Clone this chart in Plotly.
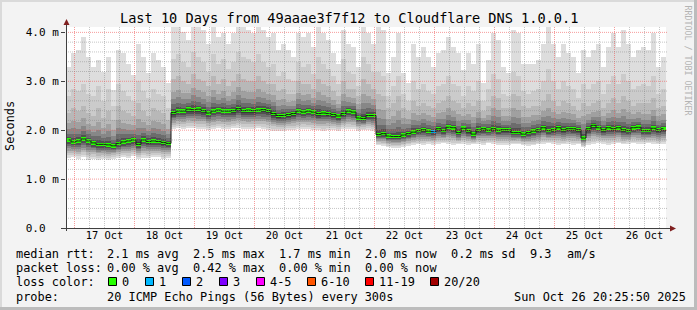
import plotly.graph_objects as go
from datetime import datetime, timedelta

# ---------------- data ----------------
day_labels = ["17 Oct", "18 Oct", "19 Oct", "20 Oct", "21 Oct",
              "22 Oct", "23 Oct", "24 Oct", "25 Oct", "26 Oct"]
y_tick_values = [0, 1, 2, 3, 4]
y_tick_labels = ["0.0\u00a0\u00a0", "1.0 m", "2.0 m", "3.0 m", "4.0 m"]

# 2-hour steps, milliseconds
rtt_median = [
    1.80, 1.76, 1.78, 1.82, 1.78, 1.74, 1.71, 1.71, 1.70, 1.68, 1.73, 1.76, 1.78, 1.80, 1.71, 1.80, 1.77, 1.78, 1.77, 1.75, 1.73,
    2.36, 2.39, 2.39, 2.43, 2.42, 2.43, 2.40, 2.35, 2.39, 2.41, 2.39, 2.39, 2.40, 2.44, 2.40, 2.41, 2.40, 2.41, 2.42, 2.40,
    2.34, 2.30, 2.30, 2.32, 2.34, 2.39, 2.37, 2.39, 2.37, 2.34, 2.35, 2.34, 2.32, 2.29, 2.34, 2.39, 2.37, 2.25, 2.24, 2.30, 2.30,
    1.91, 1.93, 1.88, 1.87, 1.87, 1.90, 1.93, 1.96, 1.99, 2.01, 1.98, 1.97, 2.03, 1.99, 2.06, 2.05, 1.95, 2.04, 1.99, 1.92,
    2.01, 2.03, 2.00, 2.03, 2.00, 2.01, 2.01, 1.95, 1.95, 1.92, 1.95, 1.98, 2.01, 2.05, 1.99, 2.01, 2.05, 2.01, 2.03, 2.03,
    2.01, 1.84, 2.03, 2.10, 2.05, 2.01, 2.05, 2.03, 2.05, 2.01, 1.99, 2.05, 2.06, 1.99, 1.99, 2.04, 2.01, 2.03,
]
rtt_max = [
    3.30, 3.57, 3.64, 3.91, 3.50, 3.30, 3.43, 3.19, 3.50, 2.82, 3.64, 3.57, 3.36, 3.12, 3.77, 3.50, 3.16, 3.57, 3.43, 3.30, 2.96,
    4.11, 4.11, 4.00, 3.84, 4.11, 4.11, 4.05, 3.77, 4.11, 3.91, 3.98, 3.77, 3.98, 4.11, 4.11, 4.05, 3.98, 4.11, 4.05, 3.91,
    3.98, 3.64, 3.77, 3.64, 3.50, 3.98, 3.91, 3.98, 3.70, 4.11, 3.98, 3.84, 3.57, 3.36, 4.05, 3.77, 3.70, 3.30, 4.11, 3.98, 3.77,
    4.11, 4.05, 3.16, 3.50, 3.98, 3.16, 2.96, 3.77, 3.50, 3.70, 3.50, 3.30, 3.57, 3.64, 3.91, 3.70, 3.57, 3.23, 3.57, 3.36,
    3.77, 2.96, 3.43, 3.98, 3.84, 3.30, 3.16, 4.05, 3.98, 3.36, 3.36, 3.36, 3.43, 3.77, 4.11, 3.77, 3.50, 3.77, 3.57, 3.50,
    3.16, 3.64, 3.50, 3.64, 3.77, 3.30, 3.70, 3.98, 3.70, 4.05, 3.77, 3.50, 3.64, 3.70, 3.64, 3.98, 3.30, 3.50,
]
rtt_p18 = [
    2.70, 2.85, 2.80, 2.95, 2.75, 2.70, 2.90, 2.60, 2.85, 2.50, 2.95, 2.80, 2.70, 2.60, 3.00, 2.80, 2.65, 2.85, 2.75, 2.70, 2.45,
    3.45, 3.55, 3.40, 3.30, 3.60, 3.50, 3.40, 3.20, 3.55, 3.35, 3.45, 3.25, 3.40, 3.60, 3.50, 3.45, 3.40, 3.55, 3.40, 3.30,
    3.35, 3.10, 3.20, 3.05, 3.00, 3.40, 3.30, 3.35, 3.15, 3.50, 3.35, 3.25, 3.10, 2.95, 3.45, 3.20, 3.15, 2.90, 3.50, 3.35, 3.20,
    3.20, 3.10, 2.70, 2.90, 3.10, 2.75, 2.60, 3.00, 2.85, 2.95, 2.80, 2.75, 2.90, 2.95, 3.10, 2.95, 2.90, 2.70, 2.90, 2.80,
    3.00, 2.60, 2.85, 3.15, 3.05, 2.75, 2.70, 3.20, 3.10, 2.80, 2.75, 2.80, 2.85, 3.00, 3.25, 3.00, 2.85, 3.00, 2.90, 2.85,
    2.65, 2.95, 2.85, 2.95, 3.00, 2.75, 2.95, 3.10, 2.95, 3.15, 3.00, 2.85, 2.90, 2.95, 2.90, 3.10, 2.75, 2.85,
]
rtt_p16 = [
    2.35, 2.45, 2.40, 2.50, 2.35, 2.30, 2.45, 2.25, 2.40, 2.20, 2.50, 2.40, 2.35, 2.30, 2.55, 2.40, 2.30, 2.45, 2.40, 2.35, 2.20,
    3.05, 3.10, 3.00, 2.95, 3.15, 3.05, 3.00, 2.90, 3.10, 2.95, 3.05, 2.90, 3.00, 3.15, 3.05, 3.00, 3.00, 3.10, 3.00, 2.95,
    2.95, 2.80, 2.85, 2.75, 2.75, 3.00, 2.95, 2.95, 2.85, 3.05, 2.95, 2.90, 2.80, 2.70, 3.00, 2.85, 2.85, 2.70, 3.05, 2.95, 2.85,
    2.75, 2.70, 2.45, 2.55, 2.70, 2.45, 2.40, 2.60, 2.50, 2.55, 2.50, 2.45, 2.55, 2.60, 2.70, 2.60, 2.55, 2.45, 2.55, 2.50,
    2.60, 2.40, 2.50, 2.70, 2.65, 2.45, 2.45, 2.75, 2.70, 2.50, 2.45, 2.50, 2.50, 2.60, 2.75, 2.60, 2.50, 2.60, 2.55, 2.50,
    2.40, 2.55, 2.50, 2.55, 2.60, 2.45, 2.55, 2.65, 2.55, 2.70, 2.60, 2.50, 2.55, 2.55, 2.55, 2.65, 2.45, 2.50,
]
rtt_min = [
    1.44, 1.46, 1.42, 1.45, 1.40, 1.42, 1.40, 1.41, 1.40, 1.42, 1.43, 1.45, 1.44, 1.47, 1.42, 1.44, 1.43, 1.45, 1.46, 1.42, 1.44,
    2.02, 2.04, 2.03, 2.05, 2.04, 2.02, 2.03, 2.00, 2.02, 2.04, 2.03, 2.02, 2.04, 2.05, 2.03, 2.02, 2.03, 2.04, 2.02, 2.00,
    1.99, 1.98, 1.99, 2.00, 2.01, 2.02, 2.03, 2.02, 2.01, 2.00, 1.99, 2.01, 2.00, 1.98, 2.02, 2.03, 2.02, 1.99, 2.00, 2.01, 1.99,
    1.70, 1.68, 1.65, 1.64, 1.64, 1.66, 1.68, 1.70, 1.71, 1.70, 1.72, 1.70, 1.71, 1.73, 1.72, 1.70, 1.71, 1.72, 1.70, 1.71,
    1.72, 1.70, 1.73, 1.72, 1.70, 1.69, 1.70, 1.71, 1.72, 1.70, 1.68, 1.69, 1.71, 1.72, 1.73, 1.72, 1.70, 1.71, 1.72, 1.70,
    1.71, 1.66, 1.70, 1.72, 1.74, 1.72, 1.70, 1.72, 1.73, 1.71, 1.72, 1.73, 1.71, 1.72, 1.73, 1.72, 1.71, 1.72,
]
# lost pings per step (only non-zero steps listed)
loss_nonzero = {73: 1}

loss_labels = ["0", "1", "2", "3", "4-5", "6-10", "11-19", "20/20"]
loss_colors = ["#26ff00", "#00b8ff", "#0059ff", "#7e00ff", "#ff00ff", "#ff5500", "#ff0000", "#a10000"]

title_text = "Last 10 Days from 49aaae3f7f12 to Cloudflare DNS 1.0.0.1"
stats_rtt = ["2.1 ms avg", "2.5 ms max", "1.7 ms min", "2.0 ms now", "0.2 ms sd"]
stats_loss = ["0.00 % avg", "0.42 % max", "0.00 % min", "0.00 % now"]
am_value = "9.3"
probe_text = "20 ICMP Echo Pings (56 Bytes) every 300s"
stamp_text = "Sun Oct 26 20:25:50 2025"

# ---------------- geometry ----------------
W, H = 697, 310
PL, PT, PW, PH = 66, 27, 600, 201
Y_MAX = 4.11
MONO = "DejaVu Sans Mono"

t0 = datetime(2025, 10, 16, 20, 36)
t_end = t0 + timedelta(days=10)
STEP_H = 2
BAR_MS = STEP_H * 3600 * 1000
n = len(rtt_median)
centers = [t0 + timedelta(hours=STEP_H * i + STEP_H / 2) for i in range(n)]


def px(x):
    return (x - PL) / PW


def py(y):
    return (PT + PH - y) / PH


def tx(t):
    return PL + (t - t0).total_seconds() / (10 * 86400) * PW


fig = go.Figure()


def lower(f):
    return [m - f * (m - lo) for m, lo in zip(rtt_median, rtt_min)]


def upper(f):
    return [m + f * (u - m) for m, u in zip(rtt_median, rtt_p16)]


bands = [
    (221, rtt_min, rtt_max),
    (203, lower(0.88), rtt_p18),
    (184, lower(0.74), rtt_p16),
    (160, lower(0.60), upper(0.62)),
    (135, lower(0.47), upper(0.40)),
    (108, lower(0.35), upper(0.24)),
    (80, lower(0.24), upper(0.12)),
    (55, lower(0.13), upper(0.05)),
]
for g, lo, hi in bands:
    fig.add_trace(go.Bar(
        x=centers, y=[h - l for l, h in zip(lo, hi)], base=lo, width=BAR_MS,
        marker=dict(color=f"rgb({g},{g},{g})", line=dict(width=0)),
        hoverinfo="skip", showlegend=False))

# median connector
fig.add_trace(go.Scatter(x=centers, y=rtt_median, mode="lines",
                         line=dict(color="#1a1a1a", width=1, shape="hvh"),
                         hoverinfo="skip", showlegend=False))


def loss_color(k):
    if k == 0:
        return loss_colors[0]
    if k <= 3:
        return loss_colors[k]
    if k <= 5:
        return loss_colors[4]
    if k <= 10:
        return loss_colors[5]
    if k <= 19:
        return loss_colors[6]
    return loss_colors[7]


MED_H = 0.072
med_cols = [loss_color(loss_nonzero.get(i, 0)) for i in range(n)]
fig.add_trace(go.Bar(
    x=centers, y=[MED_H] * n, base=[m - MED_H / 2 for m in rtt_median], width=BAR_MS,
    marker=dict(color=med_cols, line=dict(width=0)),
    hoverinfo="skip", showlegend=False))

# ---------------- grid (drawn above data, like rrdtool) ----------------
shapes = []
minor_col = "rgba(128,128,128,0.45)"
major_col = "rgba(240,90,90,0.6)"
t = datetime(2025, 10, 16, 0, 0)
while t <= t_end:
    if t > t0:
        is_major = t.hour == 0
        shapes.append(dict(type="line", xref="paper", yref="paper",
                           x0=px(tx(t)), x1=px(tx(t)), y0=0, y1=1,
                           line=dict(color=major_col if is_major else minor_col, width=1, dash="1px,1px"),
                           layer="above"))
    t += timedelta(hours=6)
for k in range(1, 21):
    v = k * 0.2
    if v > Y_MAX:
        break
    is_major = k % 5 == 0
    yy = py(PT + PH - v / Y_MAX * PH)
    shapes.append(dict(type="line", xref="paper", yref="paper",
                       x0=0, x1=px(668), y0=yy, y1=yy,
                       line=dict(color=major_col if is_major else minor_col, width=1, dash="1px,1px"),
                       layer="above"))

axis_col = "#404040"
arrow_col = "#802020"
# axes
shapes.append(dict(type="line", xref="paper", yref="paper", x0=px(66.5), x1=px(66.5),
                   y0=py(231), y1=py(22), line=dict(color=axis_col, width=1), layer="above"))
shapes.append(dict(type="line", xref="paper", yref="paper", x0=px(62), x1=px(671),
                   y0=py(228.5), y1=py(228.5), line=dict(color=axis_col, width=1), layer="above"))
shapes.append(dict(type="path", xref="paper", yref="paper",
                   path=f"M {px(63.5)} {py(25)} L {px(69.5)} {py(25)} L {px(66.5)} {py(19)} Z",
                   fillcolor=arrow_col, line=dict(width=0), layer="above"))
shapes.append(dict(type="path", xref="paper", yref="paper",
                   path=f"M {px(670)} {py(225.5)} L {px(670)} {py(231.5)} L {px(676)} {py(228.5)} Z",
                   fillcolor=arrow_col, line=dict(width=0), layer="above"))
# frame
shapes.append(dict(type="rect", xref="paper", yref="paper", x0=px(0), x1=px(697), y0=py(0), y1=py(2),
                   fillcolor="#dadada", line=dict(width=0), layer="below"))
shapes.append(dict(type="rect", xref="paper", yref="paper", x0=px(0), x1=px(2), y0=py(0), y1=py(310),
                   fillcolor="#dadada", line=dict(width=0), layer="below"))
shapes.append(dict(type="rect", xref="paper", yref="paper", x0=px(0), x1=px(697), y0=py(307), y1=py(310),
                   fillcolor="#bcbcbc", line=dict(width=0), layer="below"))
shapes.append(dict(type="rect", xref="paper", yref="paper", x0=px(694), x1=px(697), y0=py(0), y1=py(310),
                   fillcolor="#bcbcbc", line=dict(width=0), layer="below"))

# loss color boxes
box_x = [108.5, 145.5, 182.5, 219.5, 256.5, 307.5, 365.5, 430.5]
for bx, col in zip(box_x, loss_colors):
    shapes.append(dict(type="rect", xref="paper", yref="paper",
                       x0=px(bx), x1=px(bx + 8), y0=py(277.5), y1=py(285.5),
                       fillcolor=col, line=dict(color="#000000", width=1), layer="above"))

# ---------------- text ----------------
anns = []
LEG = 11.9


def ann(text, x, y, size=LEG, anchor="left", color="#000000", angle=0):
    anns.append(dict(text=text, x=px(x), y=py(y), xref="paper", yref="paper",
                     xanchor=anchor, yanchor="middle", showarrow=False, textangle=angle,
                     font=dict(family=MONO, size=size, color=color)))


ann(title_text, 348.5, 18.5, size=13.6, anchor="center")
ann("Seconds", 10, 126, size=11.9, anchor="center", angle=-90)
ann("RRDTOOL / TOBI OETIKER", 687.5, 60, size=8.3, anchor="center", color="#b4b4b4", angle=90)

row_y = [253.5, 268.0, 282.0, 296.5]
col_x = [107, 193, 279, 365, 451]
ann("median rtt:", 14, row_y[0])
for s, x in zip(stats_rtt, col_x):
    ann(s, x - 2, row_y[0])
ann(am_value, 528, row_y[0])
ann("am/s", 565, row_y[0])
ann("packet loss:", 14, row_y[1])
for s, x in zip(stats_loss, col_x):
    ann(s, x - 2, row_y[1])
ann("loss color:", 14, row_y[2])
for bx, lab in zip(box_x, loss_labels):
    ann(lab, bx + 11, row_y[2])
ann("probe:", 14, row_y[3])
ann(probe_text, 105, row_y[3])
ann(stamp_text, 511.5, row_y[3])

noon_ticks = [datetime(2025, 10, 17 + k, 12, 0) for k in range(len(day_labels))]

fig.update_layout(
    width=W, height=H,
    margin=dict(l=PL, r=W - PL - PW, t=PT, b=H - PT - PH, pad=0),
    paper_bgcolor="#f3f3f3", plot_bgcolor="#ffffff",
    barmode="overlay", bargap=0,
    showlegend=False,
    shapes=shapes, annotations=anns,
    xaxis=dict(type="date", range=[t0, t_end], showgrid=False, zeroline=False, showline=False,
               tickmode="array", tickvals=noon_ticks, ticktext=day_labels, ticks="",
               tickfont=dict(family=MONO, size=10.4, color="#000000"), fixedrange=True),
    yaxis=dict(range=[0, Y_MAX], showgrid=False, zeroline=False, showline=False,
               tickmode="array", tickvals=y_tick_values, ticktext=y_tick_labels,
               ticks="outside", ticklen=4, tickcolor=axis_col, tickwidth=1,
               tickfont=dict(family=MONO, size=11, color="#000000"), fixedrange=True),
)

fig.write_html("out.html", config={"displayModeBar": False})
